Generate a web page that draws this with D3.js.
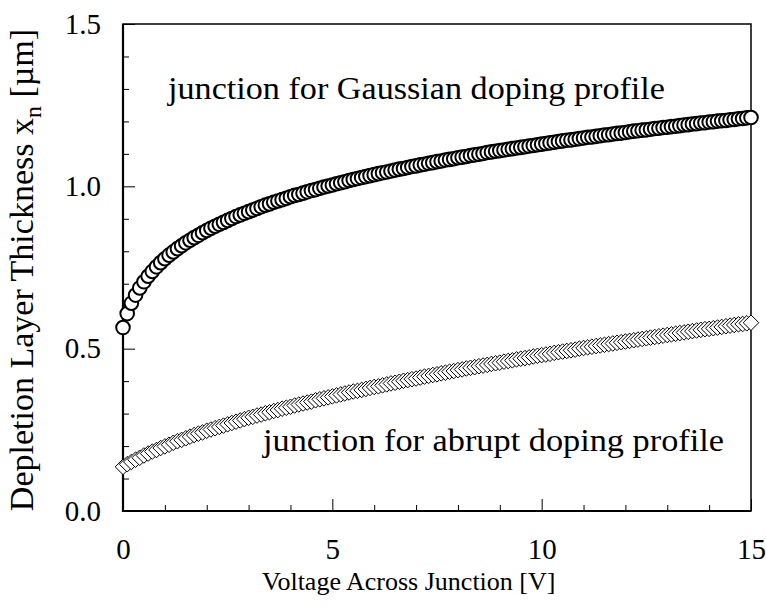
<!DOCTYPE html>
<html>
<head>
<meta charset="utf-8">
<script src="https://cdn.jsdelivr.net/npm/d3@7"></script>
<style>
  body { margin: 0; background: #fff; }
  text { font-family: "Liberation Serif", "Times New Roman", serif; fill: #000; }
</style>
</head>
<body>
<div id="chart"></div>
<script>
// applied voltage [V], one marker every 0.1 V
const voltage = [
  0,0.1,0.2,0.3,0.4,0.5,0.6,0.7,0.8,0.9,1,1.1,1.2,1.3,1.4,1.5,1.6,1.7,1.8,1.9,
  2,2.1,2.2,2.3,2.4,2.5,2.6,2.7,2.8,2.9,3,3.1,3.2,3.3,3.4,3.5,3.6,3.7,3.8,3.9,
  4,4.1,4.2,4.3,4.4,4.5,4.6,4.7,4.8,4.9,5,5.1,5.2,5.3,5.4,5.5,5.6,5.7,5.8,5.9,
  6,6.1,6.2,6.3,6.4,6.5,6.6,6.7,6.8,6.9,7,7.1,7.2,7.3,7.4,7.5,7.6,7.7,7.8,7.9,
  8,8.1,8.2,8.3,8.4,8.5,8.6,8.7,8.8,8.9,9,9.1,9.2,9.3,9.4,9.5,9.6,9.7,9.8,9.9,
  10,10.1,10.2,10.3,10.4,10.5,10.6,10.7,10.8,10.9,11,11.1,11.2,11.3,11.4,11.5,11.6,11.7,11.8,11.9,
  12,12.1,12.2,12.3,12.4,12.5,12.6,12.7,12.8,12.9,13,13.1,13.2,13.3,13.4,13.5,13.6,13.7,13.8,13.9,
  14,14.1,14.2,14.3,14.4,14.5,14.6,14.7,14.8,14.9,15
];

// depletion width x_n [um], Gaussian doping profile (circles)
const gaussian = [
  0.565,0.608,0.640,0.665,0.687,0.706,0.723,0.738,0.752,0.765,0.777,0.788,0.798,0.808,0.817,0.826,0.834,0.842,0.849,0.857,
  0.864,0.871,0.877,0.883,0.889,0.895,0.901,0.907,0.912,0.917,0.922,0.927,0.932,0.937,0.942,0.946,0.951,0.955,0.959,0.963,
  0.968,0.972,0.975,0.979,0.983,0.987,0.990,0.994,0.998,1.001,1.004,1.008,1.011,1.014,1.018,1.021,1.024,1.027,1.030,1.033,
  1.036,1.039,1.042,1.044,1.047,1.050,1.053,1.055,1.058,1.061,1.063,1.066,1.068,1.071,1.073,1.076,1.078,1.081,1.083,1.085,
  1.088,1.090,1.092,1.095,1.097,1.099,1.101,1.104,1.106,1.108,1.110,1.112,1.114,1.116,1.118,1.120,1.122,1.124,1.126,1.128,
  1.130,1.132,1.134,1.136,1.138,1.140,1.142,1.143,1.145,1.147,1.149,1.151,1.152,1.154,1.156,1.158,1.159,1.161,1.163,1.164,
  1.166,1.168,1.170,1.171,1.173,1.174,1.176,1.178,1.179,1.181,1.182,1.184,1.185,1.187,1.189,1.190,1.192,1.193,1.195,1.196,
  1.198,1.199,1.201,1.202,1.203,1.205,1.206,1.208,1.209,1.211,1.212
];

// depletion width x_n [um], abrupt doping profile (diamonds)
const abrupt = [
  0.136,0.144,0.151,0.158,0.164,0.171,0.177,0.183,0.188,0.194,0.199,0.204,0.210,0.215,0.219,0.224,0.229,0.234,0.238,0.242,
  0.247,0.251,0.255,0.259,0.263,0.267,0.271,0.275,0.279,0.283,0.287,0.290,0.294,0.297,0.301,0.304,0.308,0.311,0.315,0.318,
  0.321,0.325,0.328,0.331,0.334,0.337,0.341,0.344,0.347,0.350,0.353,0.356,0.359,0.362,0.365,0.368,0.370,0.373,0.376,0.379,
  0.382,0.384,0.387,0.390,0.393,0.395,0.398,0.401,0.403,0.406,0.408,0.411,0.414,0.416,0.419,0.421,0.424,0.426,0.429,0.431,
  0.434,0.436,0.439,0.441,0.443,0.446,0.448,0.450,0.453,0.455,0.457,0.460,0.462,0.464,0.467,0.469,0.471,0.473,0.476,0.478,
  0.480,0.482,0.484,0.487,0.489,0.491,0.493,0.495,0.497,0.500,0.502,0.504,0.506,0.508,0.510,0.512,0.514,0.516,0.518,0.520,
  0.522,0.524,0.526,0.528,0.530,0.532,0.534,0.536,0.538,0.540,0.542,0.544,0.546,0.548,0.550,0.552,0.554,0.556,0.558,0.560,
  0.561,0.563,0.565,0.567,0.569,0.571,0.573,0.575,0.576,0.578,0.580
];

const xMajor = [0, 5, 10, 15];
const xMinor = [1, 2, 3, 4, 6, 7, 8, 9, 11, 12, 13, 14];
const yMajor = [0.0, 0.5, 1.0, 1.5];
const yMinor = [0.1, 0.2, 0.3, 0.4, 0.6, 0.7, 0.8, 0.9, 1.1, 1.2, 1.3, 1.4];

const W = 766, H = 609;
const margin = { top: 24, right: 15, bottom: 98, left: 123 };
const width = W - margin.left - margin.right;
const height = H - margin.top - margin.bottom;

const svg = d3.select("#chart").append("svg")
    .attr("width", W)
    .attr("height", H);

const g = svg.append("g")
    .attr("transform", `translate(${margin.left},${margin.top})`);

const x = d3.scaleLinear().domain([0, 15]).range([0, width]);
const y = d3.scaleLinear().domain([0, 1.5]).range([height, 0]);

// minor ticks (inside, no labels)
g.append("g")
    .attr("transform", `translate(0,${height})`)
    .call(d3.axisBottom(x).tickValues(xMinor).tickSize(-6).tickFormat(""))
    .call(a => a.select(".domain").remove());
g.append("g")
    .call(d3.axisLeft(y).tickValues(yMinor).tickSize(-6).tickFormat(""))
    .call(a => a.select(".domain").remove());

// major ticks with labels
g.append("g")
    .attr("transform", `translate(0,${height})`)
    .call(d3.axisBottom(x).tickValues(xMajor).tickSize(-12).tickPadding(27).tickFormat(d3.format("d")))
    .call(a => a.select(".domain").remove())
    .call(a => a.selectAll("text").attr("font-size", 29).attr("font-family", null));
g.append("g")
    .call(d3.axisLeft(y).tickValues(yMajor).tickSize(-12).tickPadding(22).tickFormat(d3.format(".1f")))
    .call(a => a.select(".domain").remove())
    .call(a => a.selectAll("text").attr("font-size", 29).attr("font-family", null));

g.selectAll(".tick line").attr("stroke", "#000").attr("stroke-width", 1);

// frame
g.append("rect")
    .attr("width", width)
    .attr("height", height)
    .attr("fill", "none")
    .attr("stroke", "#000")
    .attr("stroke-width", 1.5);
g.append("path")
    .attr("d", `M0,0V${height}H${width}`)
    .attr("fill", "none")
    .attr("stroke", "#000")
    .attr("stroke-width", 2.2);

// abrupt profile: open diamonds
const dia = 7.8;
g.selectAll(".diamond")
    .data(voltage)
    .enter().append("path")
    .attr("class", "diamond")
    .attr("d", `M0,${-dia}L${dia},0L0,${dia}L${-dia},0Z`)
    .attr("transform", (d, i) => `translate(${x(d)},${y(abrupt[i])})`)
    .attr("fill", "#fff")
    .attr("stroke", "#000")
    .attr("stroke-width", 1);

// Gaussian profile: open circles
g.selectAll(".dot")
    .data(voltage)
    .enter().append("circle")
    .attr("class", "dot")
    .attr("cx", d => x(d))
    .attr("cy", (d, i) => y(gaussian[i]))
    .attr("r", 6.8)
    .attr("fill", "#fff")
    .attr("stroke", "#000")
    .attr("stroke-width", 2);

// annotations
g.append("text")
    .attr("x", 168 - margin.left)
    .attr("y", 99 - margin.top)
    .attr("font-size", 31)
    .attr("textLength", 497)
    .attr("lengthAdjust", "spacingAndGlyphs")
    .text("junction for Gaussian doping profile");
g.append("text")
    .attr("x", 263 - margin.left)
    .attr("y", 451 - margin.top)
    .attr("font-size", 31)
    .attr("textLength", 461)
    .attr("lengthAdjust", "spacingAndGlyphs")
    .text("junction for abrupt doping profile");

// axis titles
g.append("text")
    .attr("x", 262 - margin.left)
    .attr("y", height + 79)
    .attr("font-size", 26)
    .text("Voltage Across Junction [V]");

const yTitle = g.append("text")
    .attr("transform", `translate(${33 - margin.left},${270 - margin.top}) rotate(-90)`)
    .attr("text-anchor", "middle")
    .attr("font-size", 34);
yTitle.append("tspan").text("Depletion Layer Thickness x");
yTitle.append("tspan").attr("font-size", 24).attr("dy", 8).text("n");
yTitle.append("tspan").attr("dy", -8).text(" [\u00b5m]");
</script>
</body>
</html>
